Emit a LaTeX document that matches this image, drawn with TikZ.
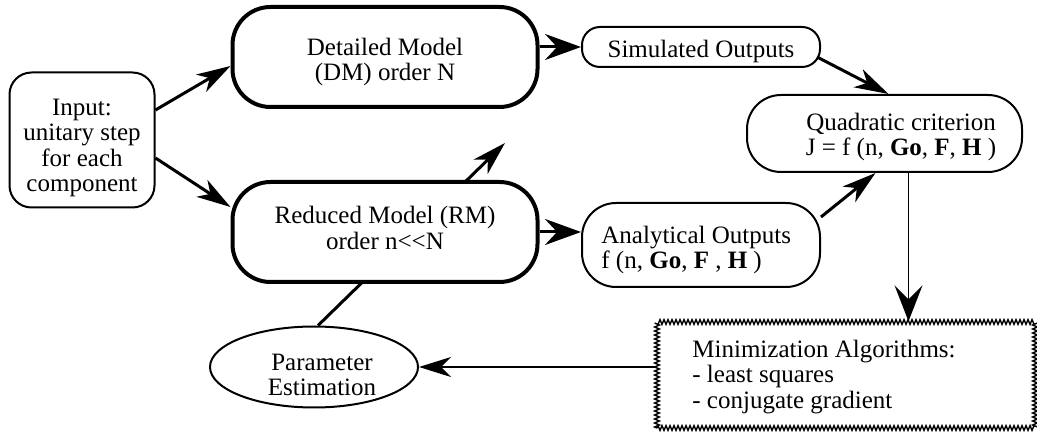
\documentclass[tikz,border=0pt]{standalone}
\usepackage{fontspec}
\setmainfont{Liberation Serif}
\usetikzlibrary{arrows.meta,shapes.geometric,decorations.pathmorphing,backgrounds}
\begin{document}
\begin{tikzpicture}[x=0.5pt,y=-0.5pt,
  every node/.style={font=\fontsize{12.5pt}{12.8pt}\selectfont},
  box/.style={draw, fill=white, rectangle, inner sep=0pt},
  txt/.style={align=center, inner sep=0pt},
  ltxt/.style={align=left, inner sep=0pt, anchor=west},
  arr/.style={-{Stealth[length=17pt,width=10pt,inset=5pt]}, line width=1.5pt},
  shortarr/.style={-{Stealth[length=18pt,width=13pt,inset=6pt]}, line width=1.5pt},
  thinarr/.style={-{Stealth[length=16pt,width=10pt,inset=5pt]}, line width=0.8pt},
  downarr/.style={-{Stealth[length=18pt,width=14pt,inset=7pt]}, line width=0.8pt},
  hatched/.style={draw, rectangle, inner sep=0pt, decorate,
    decoration={zigzag, segment length=2pt, amplitude=1.2pt}, line width=0.7pt},
]
\useasboundingbox (0,0) rectangle (1037,437);

% boxes
\node[box, line width=1pt, minimum width=72.5pt, minimum height=67.5pt, rounded corners=11pt] (in) at (82,140) {};
\node[txt] (inT) at (82,148) {Input:\\unitary step\\for each\\component};

\node[box, line width=2pt, minimum width=152.5pt, minimum height=50pt, rounded corners=19pt] (dm) at (385,57) {};
\node[txt] (dmT) at (385,62) {Detailed Model\\(DM) order N};

\node[box, line width=2pt, minimum width=152.5pt, minimum height=50pt, rounded corners=19pt] (rm) at (385,232) {};
\node[txt] (rmT) at (385,228) {Reduced Model (RM)\\order n{<}{<}N};

\node[box, line width=1pt, minimum width=119pt, minimum height=20pt, rounded corners=9pt] (sim) at (701,47) {};
\node[txt] (simT) at (701,51) {Simulated Outputs};

\node[box, line width=1pt, minimum width=119pt, minimum height=42pt, rounded corners=17pt] (ana) at (701,245) {};
\node[ltxt] (anaT) at (601,250) {Analytical Outputs\\f (n, \textbf{Go}, \textbf{F} , \textbf{H} )};

\node[box, line width=1pt, minimum width=137.5pt, minimum height=38.5pt, rounded corners=17pt] (quad) at (884.5,133.5) {};
\node[txt] (quadT) at (901,137) {Quadratic criterion\\J = f (n, \textbf{Go}, \textbf{F}, \textbf{H} )};

\node[draw, ellipse, fill=white, line width=1pt, minimum width=104pt, minimum height=40.5pt, inner sep=0pt] (pe) at (314,367) {};
\node[txt] (peT) at (322,375) {Parameter\\Estimation};

\node[hatched, minimum width=189pt, minimum height=53pt] (min) at (846,375) {};
\node[ltxt] (minT) at (692,377) {Minimization Algorithms:\\- least squares\\- conjugate gradient};

% connectors
\draw[arr] ([yshift=15pt]in.east) -- ([yshift=-4.5pt]dm.west);
\draw[arr] ([yshift=-9pt]in.east) -- ([yshift=12.5pt]rm.west);
\draw[shortarr] (dm.east |- sim.west) -- (sim.west);
\draw[shortarr] (rm.east) -- (ana.west |- rm.east);
\draw[arr] ([xshift=-2pt,yshift=-5pt]sim.east) -- ([xshift=2pt]quad.north);
\draw[arr] ([yshift=14pt]ana.east) -- ([xshift=-4.5pt]quad.south);
\draw[downarr] ([xshift=12pt]quad.south) -- ([xshift=12pt]quad.south |- min.north);
\draw[thinarr] (min.west |- pe.east) -- (pe.east);

\coordinate (adj) at (505,143);
\begin{scope}[on background layer]
\draw[arr] ([xshift=2pt]pe.north) -- (adj);
\end{scope}
\end{tikzpicture}
\end{document}
